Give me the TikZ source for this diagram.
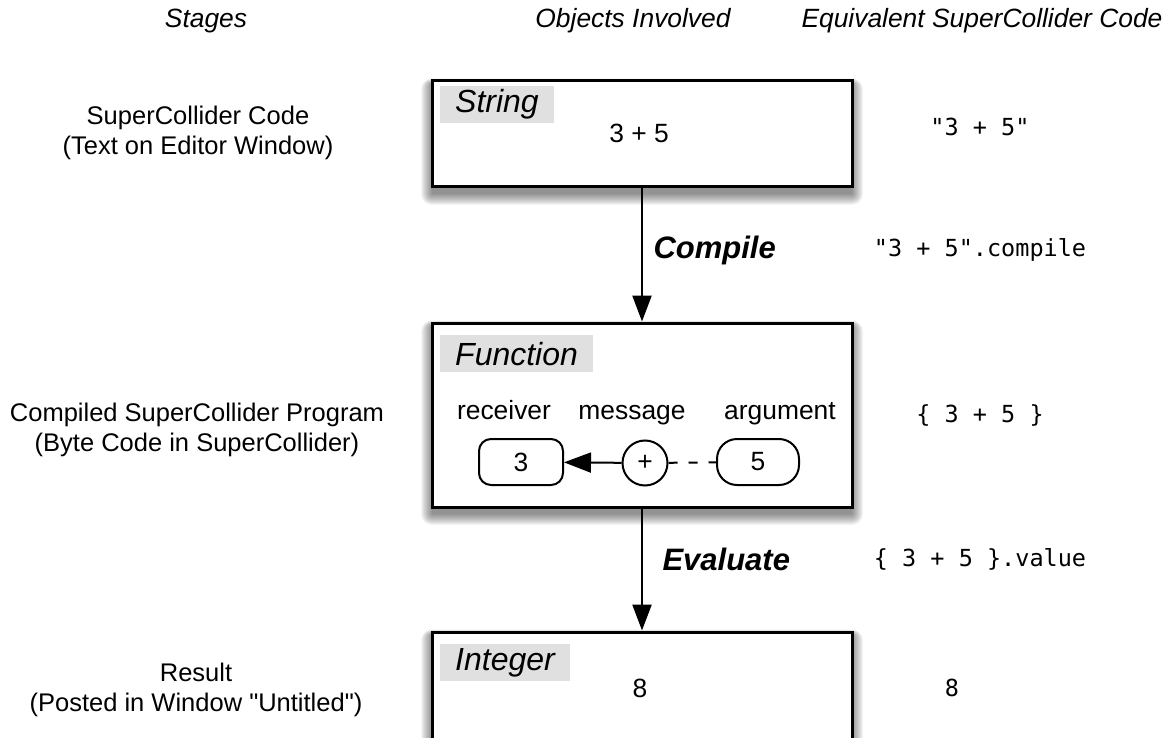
\documentclass[tikz,border=0pt]{standalone}
\usepackage{fontspec}
\setmainfont{Liberation Sans}
\setmonofont{DejaVu Sans Mono}
\newfontfamily\plainq{Liberation Sans}
\usetikzlibrary{arrows.meta}
\definecolor{labelgray}{RGB}{224,224,224}
\newcommand{\softshadow}[4]{%
  \foreach \k in {0,...,11}{%
    \fill[black,opacity=0.045,rounded corners=\k pt] (#1-\k,#2+3-0.5*\k) rectangle (#3+\k,#4+7+\k);}}
\tikzset{
  objbox/.style={draw=black, line width=3pt, fill=white, minimum width=420pt, inner sep=0pt},
  objlabel/.style={fill=labelgray, anchor=north west, minimum height=37pt, inner xsep=15pt, inner ysep=0pt, font=\fontsize{32}{36}\selectfont\itshape},
  hdr/.style={font=\fontsize{26.4}{30}\selectfont\itshape},
  stage/.style={font=\fontsize{25.5}{30}\selectfont, align=center},
  plain/.style={font=\fontsize{26.4}{30}\selectfont},
  role/.style={anchor=base, font=\fontsize{26.4}{30}\selectfont},
  code/.style={font=\ttfamily\fontsize{23.5}{28}\selectfont},
  verb/.style={anchor=west, font=\fontsize{31}{36}\selectfont\bfseries\itshape},
  rbox/.style={draw, line width=2pt, rounded corners=12pt, minimum width=84pt, minimum height=46pt, inner sep=0pt, font=\fontsize{26.4}{30}\selectfont},
  msg/.style={draw, circle, line width=2pt, minimum size=45pt, inner sep=0pt, font=\fontsize{26.4}{30}\selectfont},
  flow/.style={line width=2.5pt, -{Triangle[length=26pt,width=19pt]}},
}
\begin{document}
\begin{tikzpicture}[x=1pt,y=-1pt]
\clip (0,0) rectangle (1170,738);
\fill[white] (0,0) rectangle (1170,738);

% headers
\node[hdr] (h1) at (206,21) {Stages};
\node[hdr] (h2) at (633,21) {Objects Involved};
\node[hdr] (h3) at (982,21) {Equivalent SuperCollider Code};

% stages
\node[stage] (s1) at (198,133) {SuperCollider Code\\(Text on Editor Window)};
\node[stage] (s2) at (197,430) {Compiled SuperCollider Program\\(Byte Code in SuperCollider)};
\node[stage] (s3) at (196,690) {Result\\(Posted in Window {\plainq"}Untitled{\plainq"})};

% shadows
\softshadow{432}{81}{852}{187}
\softshadow{432}{323}{852}{507}
\softshadow{432}{632}{852}{780}

% boxes
\node[objbox, minimum height=106pt] (str) at (642,134) {};
\node[objbox, minimum height=184pt] (fun) at (642,415) {};
\node[objbox, minimum height=148pt] (int) at (642,706) {};

\node[objlabel] (lstr) at (440,86) {String};
\node[objlabel] (lfun) at (440,335) {Function};
\node[objlabel] (lint) at (440,644) {Integer};

\node[plain] (vstr) at (639,133) {3 + 5};
\node[plain] (vint) at (640,688) {8};

% function contents
\node[role] (rcv) at (504,419) {receiver};
\node[role] (msgl) at (632,419) {message};
\node[role] (argl) at (780,419) {argument};
\node[rbox] (three) at (521,462) {3};
\node[msg] (plus) at (645,463) {+};
\node[rbox, rounded corners=20pt, minimum width=82pt] (five) at (758,462) {5};
\draw[line width=2pt, -{Triangle[length=27pt,width=20pt]}] (plus) -- (three);
\draw[line width=2pt, dash pattern=on 9pt off 11pt] (plus) -- (five);

% flow arrows
\draw[flow] (str) -- (fun);
\draw[flow] (fun) -- (int);
\node[verb] (comp) at (650,250) {Compile};
\node[verb] (eval) at (659,559) {Evaluate};

% code
\node[code] (c1) at (980,127) {"3 + 5"};
\node[code] (c2) at (980,250) {"3 + 5".compile};
\node[code] (c3) at (980,415) {\{ 3 + 5 \}};
\node[code] (c4) at (980,559) {\{ 3 + 5 \}.value};
\node[code] (c5) at (952,688) {8};
\end{tikzpicture}
\end{document}
